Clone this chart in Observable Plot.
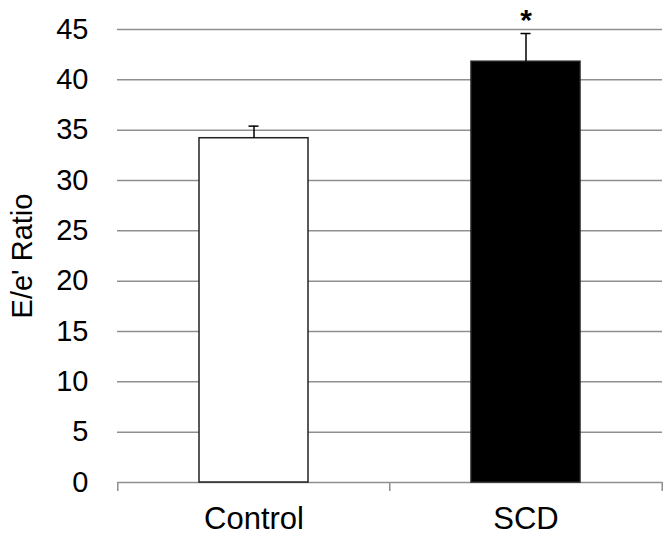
<!DOCTYPE html>
<html>
<head>
<meta charset="utf-8">
<script src="https://cdn.jsdelivr.net/npm/d3@7"></script>
<script src="https://cdn.jsdelivr.net/npm/@observablehq/plot@0.6"></script>
<style>
  html, body { margin: 0; padding: 0; background: #fff; }
  svg { display: block; }
</style>
</head>
<body>
<div id="chart"></div>
<script>
// Data
const categories = ["Control", "SCD"];
const values = [34.2, 41.8];
const errors = [1.2, 2.8];
const marks = ["", "*"];
const yTicks = [0, 5, 10, 15, 20, 25, 30, 35, 40, 45];
const yLabel = "E/e' Ratio";

const data = categories.map((c, i) => ({
  category: c, value: values[i], error: errors[i], upper: values[i] + errors[i], sig: marks[i]
}));

const W = 666, H = 535;
const mL = 117, mR = 4, mT = 29, mB = 53;
const padIn = 0.6, padOut = 0.3;
const step = (W - mL - mR) / (categories.length - padIn + 2 * padOut);
const bw = step * (1 - padIn);
const capHalf = 5;
const font = "'Liberation Sans', Arial, Helvetica, sans-serif";
const grey = "#8f8f8f";

const chart = Plot.plot({
  width: W,
  height: H,
  marginLeft: mL,
  marginRight: mR,
  marginTop: mT,
  marginBottom: mB,
  style: { fontFamily: font, color: "black", background: "white" },
  x: { type: "band", domain: categories, paddingInner: padIn, paddingOuter: padOut, axis: null },
  y: { domain: [0, 45], axis: null },
  color: { domain: categories, range: ["white", "black"] },
  marks: [
    Plot.gridY(yTicks.filter(t => t > 0), { stroke: grey, strokeOpacity: 1, strokeWidth: 1.5 }),
    Plot.ruleY([0], { stroke: grey, strokeWidth: 1.5 }),
    // category boundary ticks below the x axis
    Plot.ruleX(categories, { x: d => d, y1: 0, y2: -0.9, dx: -step / 2, stroke: grey, strokeWidth: 1.5 }),
    Plot.ruleX(categories.slice(-1), { x: d => d, y1: 0, y2: -0.9, dx: step / 2, stroke: grey, strokeWidth: 1.5 }),
    Plot.axisY(yTicks, { tickSize: 0, tickPadding: 29, fontSize: 29, label: null, fill: "black" }),
    Plot.axisX({ tickSize: 0, tickPadding: 24, fontSize: 31, label: null, fill: "black" }),
    Plot.text([yLabel], { frameAnchor: "left", rotate: -90, dx: -95, fontSize: 29, fill: "black", textAnchor: "middle" }),
    Plot.barY(data, { x: "category", y: "value", fill: "category", stroke: "#222", strokeWidth: 1.5 }),
    Plot.ruleX(data, { x: "category", y1: "value", y2: "upper", stroke: "black", strokeWidth: 1.5 }),
    Plot.tickY(data, { x: "category", y: "upper", stroke: "black", strokeWidth: 1.5, insetLeft: bw / 2 - capHalf, insetRight: bw / 2 - capHalf }),
    Plot.text(data, { x: "category", y: "upper", text: "sig", dy: -13, fontSize: 30, fontWeight: "bold", fill: "black", lineAnchor: "middle" })
  ]
});

document.getElementById("chart").append(chart);
</script>
</body>
</html>
